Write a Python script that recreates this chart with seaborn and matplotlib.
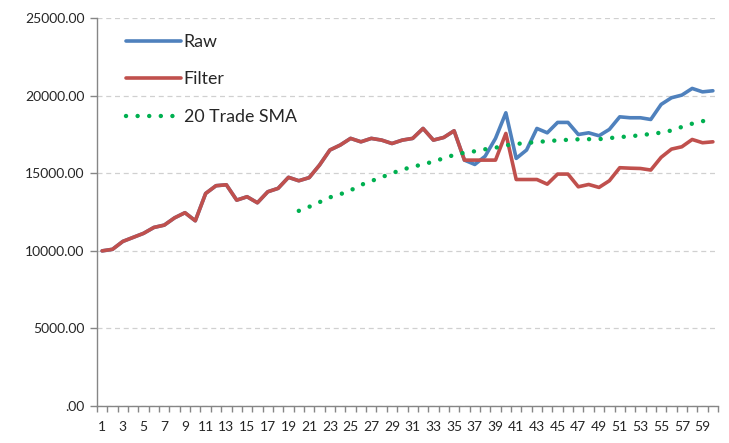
import matplotlib
matplotlib.use("Agg")
import matplotlib.pyplot as plt
import numpy as np
import pandas as pd
import seaborn as sns

# trade number on the x axis
trades = list(range(1, 61))

raw = [10000, 10100, 10610, 10870, 11130, 11510, 11660, 12130, 12460, 11940,
       13700, 14200, 14260, 13270, 13490, 13100, 13810, 14030, 14740, 14520,
       14720, 15530, 16500, 16820, 17250, 17030, 17250, 17140, 16920, 17140,
       17250, 17890, 17140, 17310, 17740, 15850, 15570, 16100, 17250, 18900,
       15960, 16500, 17890, 17610, 18280, 18280, 17500, 17610, 17420, 17830,
       18640, 18580, 18580, 18470, 19440, 19870, 20040, 20470, 20250, 20320]

filtered = [10000, 10100, 10610, 10870, 11130, 11510, 11660, 12130, 12460, 11940,
            13700, 14200, 14260, 13270, 13490, 13100, 13810, 14030, 14740, 14520,
            14720, 15530, 16500, 16820, 17250, 17030, 17250, 17140, 16920, 17140,
            17250, 17890, 17140, 17310, 17740, 15850, 15850, 15850, 15850, 17570,
            14600, 14600, 14600, 14300, 14950, 14950, 14130, 14280, 14090, 14520,
            15360, 15330, 15310, 15210, 16030, 16560, 16710, 17180, 16970, 17030]

sma_trades = list(range(20, 61))
sma = [12580, 12840, 13140, 13450, 13650, 13900, 14250, 14500, 14750, 15000,
       15250, 15400, 15600, 15740, 15980, 16180, 16330, 16420, 16550, 16650,
       16800, 16890, 16960, 17010, 17080, 17120, 17160, 17190, 17200, 17200,
       17270, 17330, 17390, 17450, 17540, 17620, 17760, 17990, 18200, 18360,
       18480]

y_ticks = [0, 5000, 10000, 15000, 20000, 25000]

sns.set_style("white")
plt.rcParams['font.family'] = ['Lato', 'DejaVu Sans']

fig = plt.figure(figsize=(7.29, 4.43), dpi=100)
ax = fig.add_axes([0.133, 0.0835, 0.852, 0.8755])

sns.lineplot(x=trades, y=raw, ax=ax, color="#4F81BD", linewidth=2.6,
             label="Raw", solid_joinstyle="round", zorder=3)
sns.lineplot(x=trades, y=filtered, ax=ax, color="#C0504D", linewidth=2.6,
             label="Filter", solid_joinstyle="round", zorder=4)
sns.lineplot(x=sma_trades, y=sma, ax=ax, color="#00B050", linewidth=3.2,
             linestyle=(0, (0.01, 2.6)), dash_capstyle="round",
             label="20 Trade SMA", zorder=5)

ax.set_xlim(0.5, 60.5)
ax.set_ylim(0, 25000)

# category style x axis: labels on odd trades, tick marks between categories
ax.set_xticks(trades[::2])
ax.set_xticklabels([str(t) for t in trades[::2]])
ax.set_xticks(np.arange(0.5, 61, 1), minor=True)
ax.tick_params(axis="x", which="major", length=0, pad=11, labelsize=10)
ax.tick_params(axis="x", which="minor", length=4, width=1, color="#868686",
               direction="out", bottom=True)

ax.set_yticks(y_ticks)
ax.set_yticklabels([f"{v:.2f}".lstrip("0") if v == 0 else f"{v:.2f}" for v in y_ticks])
ax.tick_params(axis="y", length=5, width=1, color="#868686", direction="out",
               left=True, pad=4, labelsize=10)

ax.yaxis.grid(True, color="#D0D0D0", linestyle=(0, (4, 3)), linewidth=0.9)
ax.xaxis.grid(False)
ax.set_axisbelow(True)

for side in ["top", "right"]:
    ax.spines[side].set_visible(False)
for side in ["left", "bottom"]:
    ax.spines[side].set_color("#868686")
    ax.spines[side].set_linewidth(1)

ax.set_xlabel("")
ax.set_ylabel("")

ax.legend(loc="upper left", bbox_to_anchor=(0.035, 0.978), frameon=False,
          fontsize=12.8, handlelength=3.1, handletextpad=0.15, labelspacing=1.22,
          borderaxespad=0)

fig.savefig("out.png", dpi=100)
